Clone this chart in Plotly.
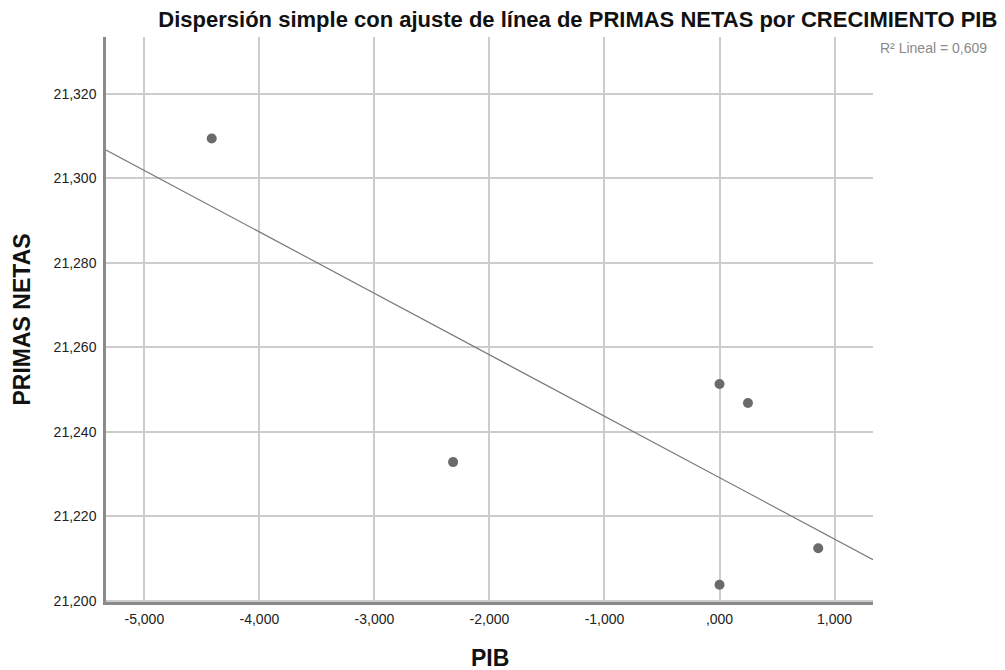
import numpy as np
import plotly.graph_objects as go

# Data
pib = [-4.414, -2.316, 0.000, 0.247, 0.858, 0.000]
primas_netas = [21.3094, 21.2328, 21.2513, 21.2468, 21.2124, 21.2038]

x_tick_vals = [-5, -4, -3, -2, -1, 0, 1]
x_tick_text = ["-5,000", "-4,000", "-3,000", "-2,000", "-1,000", ",000", "1,000"]
y_tick_vals = [21.20, 21.22, 21.24, 21.26, 21.28, 21.30, 21.32]
y_tick_text = ["21,200", "21,220", "21,240", "21,260", "21,280", "21,300", "21,320"]

x_range = [-5.333, 1.334]
y_range = [21.1997, 21.3334]

# Linear fit
slope, intercept = np.polyfit(pib, primas_netas, 1)
pred = np.polyval([slope, intercept], pib)
ss_res = np.sum((np.array(primas_netas) - pred) ** 2)
ss_tot = np.sum((np.array(primas_netas) - np.mean(primas_netas)) ** 2)
r2 = 1 - ss_res / ss_tot
fit_x = np.array(x_range)
fit_y = slope * fit_x + intercept

font_family = "Arial, Liberation Sans, sans-serif"

fig = go.Figure()
fig.add_trace(go.Scatter(
    x=fit_x, y=fit_y, mode="lines",
    line=dict(color="#7a7a7a", width=1.2),
    hoverinfo="skip", showlegend=False,
))
fig.add_trace(go.Scatter(
    x=pib, y=primas_netas, mode="markers",
    marker=dict(color="#6b6b6b", size=10, line=dict(width=0)),
    showlegend=False,
))

fig.update_layout(
    width=1005, height=670,
    margin=dict(l=106, r=132, t=37, b=68),
    paper_bgcolor="white", plot_bgcolor="white",
    font=dict(family=font_family, color="#222222", size=14),
    title=dict(
        text="<b>Dispersión simple con ajuste de línea de PRIMAS NETAS por CRECIMIENTO PIB</b>",
        x=0.575, xanchor="center", y=0.971, yanchor="middle",
        font=dict(size=22, color="#111111", family=font_family),
    ),
    xaxis=dict(
        range=x_range, tickvals=x_tick_vals, ticktext=x_tick_text,
        showgrid=True, gridcolor="#cccccc", gridwidth=1.5,
        showline=True, linecolor="#8a8a8a", linewidth=2.5,
        zeroline=False, ticks="", ticklen=0, ticklabelstandoff=2,
        tickfont=dict(size=14, color="#222222"),
    ),
    yaxis=dict(
        range=y_range, tickvals=y_tick_vals, ticktext=y_tick_text,
        showgrid=True, gridcolor="#cccccc", gridwidth=1.5,
        showline=True, linecolor="#8a8a8a", linewidth=2.5,
        zeroline=False, ticks="", ticklen=0, ticklabelstandoff=4,
        tickfont=dict(size=14, color="#222222"),
    ),
    annotations=[
        dict(
            text="R² Lineal = " + f"{r2:.3f}".replace(".", ","),
            xref="paper", yref="paper", x=1.0, y=1.0,
            xshift=5, yshift=-11,
            xanchor="left", yanchor="middle", showarrow=False,
            font=dict(size=14, color="#8a8a8a", family=font_family),
        ),
        dict(
            text="<b>PIB</b>",
            xref="paper", yref="paper", x=0.5, y=0.0,
            yshift=-56, xanchor="center", yanchor="middle", showarrow=False,
            font=dict(size=23, color="#111111", family=font_family),
        ),
        dict(
            text="<b>PRIMAS NETAS</b>", textangle=-90,
            xref="paper", yref="paper", x=0.0, y=0.5,
            xshift=-85, xanchor="center", yanchor="middle", showarrow=False,
            font=dict(size=23, color="#111111", family=font_family),
        ),
    ],
)

fig.write_html("out.html")
